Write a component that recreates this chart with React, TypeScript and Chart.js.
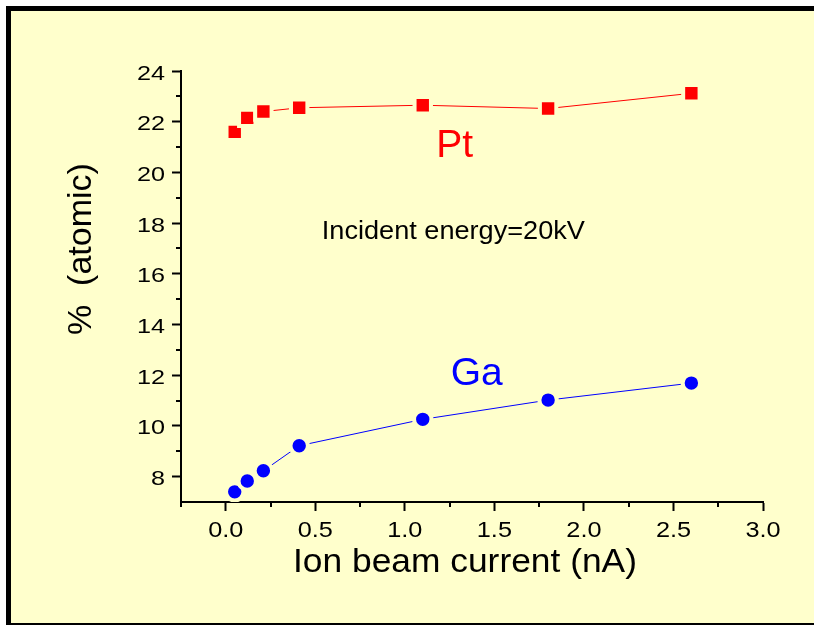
import React, { useEffect, useRef } from "react";
import { Chart, registerables } from "chart.js";

Chart.register(...registerables);

// ---- data ----
const currentNA = [0.05, 0.12, 0.21, 0.41, 1.1, 1.8, 2.6];
const ptPercent = [21.6, 22.15, 22.4, 22.55, 22.65, 22.52, 23.12];
const gaPercent = [7.4, 7.83, 8.23, 9.22, 10.26, 11.02, 11.69];

const xMajorTicks = [0, 0.5, 1, 1.5, 2, 2.5, 3];
const xMinorTicks = [-0.25, 0.25, 0.75, 1.25, 1.75, 2.25, 2.75];
const yMajorTicks = [8, 10, 12, 14, 16, 18, 20, 22, 24];
const yMinorTicks = [9, 11, 13, 15, 17, 19, 21, 23];

const xTitle = "Ion beam current (nA)";
const yTitle = "%  (atomic)";
const noteText = "Incident energy=20kV";
const ptLabel = "Pt";
const gaLabel = "Ga";

const BG = "#FFFFCC";
const FONT = '"Liberation Sans", Arial, Helvetica, sans-serif';

const fmtX = (v: number) => v.toFixed(1);
const fmtY = (v: number) => String(v);

function drawText(
  ctx: CanvasRenderingContext2D,
  text: string,
  x: number,
  y: number,
  size: number,
  color: string,
  sx = 1,
  rot = 0,
  align: CanvasTextAlign = "left"
) {
  ctx.save();
  ctx.translate(x, y);
  ctx.rotate(rot);
  ctx.scale(sx, 1);
  ctx.font = `${size}px ${FONT}`;
  ctx.fillStyle = color;
  ctx.textAlign = align;
  ctx.textBaseline = "alphabetic";
  ctx.fillText(text, 0, 0);
  ctx.restore();
}

const extrasPlugin = {
  id: "extras",
  afterDraw(chart: any) {
    const ctx: CanvasRenderingContext2D = chart.ctx;
    const xs = chart.scales.x;
    const ys = chart.scales.y;
    const area = chart.chartArea;
    ctx.save();
    ctx.strokeStyle = "#000";
    ctx.lineWidth = 2;
    // minor ticks
    for (const v of xMinorTicks) {
      const px = Math.round(xs.getPixelForValue(v));
      ctx.beginPath();
      ctx.moveTo(px, area.bottom);
      ctx.lineTo(px, area.bottom + 5);
      ctx.stroke();
    }
    for (const v of yMinorTicks) {
      const py = Math.round(ys.getPixelForValue(v));
      ctx.beginPath();
      ctx.moveTo(area.left, py);
      ctx.lineTo(area.left - 5, py);
      ctx.stroke();
    }
    ctx.restore();

    // tick labels (wide Helvetica-like style of the original), placed by the scales
    for (const t of xs.ticks) {
      drawText(ctx, fmtX(t.value), xs.getPixelForValue(t.value), area.bottom + 34.5, 22, "#000", 1.15, 0, "center");
    }
    for (const t of ys.ticks) {
      drawText(ctx, fmtY(t.value), area.left - 16, ys.getPixelForValue(t.value) + 8.5, 21, "#000", 1.2, 0, "right");
    }

    // annotations anchored in data coordinates
    drawText(ctx, ptLabel, xs.getPixelForValue(1.175), ys.getPixelForValue(20.6), 39, "#FF0000");
    drawText(ctx, gaLabel, xs.getPixelForValue(1.256), ys.getPixelForValue(11.6), 39, "#0000FF");
    drawText(ctx, noteText, xs.getPixelForValue(0.536), ys.getPixelForValue(17.36), 25, "#000", 1.085);

    // axis titles
    drawText(ctx, xTitle, 293, 571.5, 34, "#000", 1.04);
    drawText(ctx, yTitle, 91, 335, 33, "#000", 1.03, -Math.PI / 2);
  },
};

export default function App() {
  const ref = useRef<HTMLCanvasElement>(null);

  useEffect(() => {
    const canvas = ref.current!;
    const chart = new Chart(canvas, {
      type: "scatter",
      data: {
        datasets: [
          {
            label: ptLabel,
            data: currentNA.map((x, i) => ({ x, y: ptPercent[i] })),
            showLine: true,
            borderColor: "#FF0000",
            borderWidth: 1,
            backgroundColor: "#FF0000",
            pointStyle: "rect",
            pointRadius: 11.6,
            pointBorderWidth: 4,
            pointBorderColor: BG,
            pointBackgroundColor: "#FF0000",
            tension: 0,
          },
          {
            label: gaLabel,
            data: currentNA.map((x, i) => ({ x, y: gaPercent[i] })),
            showLine: true,
            borderColor: "#0000FF",
            borderWidth: 1,
            backgroundColor: "#0000FF",
            pointStyle: "circle",
            pointRadius: 8.7,
            pointBorderWidth: 4,
            pointBorderColor: BG,
            pointBackgroundColor: "#0000FF",
            tension: 0,
          },
        ],
      },
      options: {
        responsive: false,
        animation: false,
        events: [],
        layout: { padding: { top: 71, right: 51, bottom: 0, left: 0 } },
        plugins: {
          legend: { display: false },
          tooltip: { enabled: false },
        },
        scales: {
          x: {
            type: "linear",
            min: -0.25,
            max: 3,
            afterBuildTicks: (s: any) => {
              s.ticks = xMajorTicks.map((v) => ({ value: v }));
            },
            afterFit: (s: any) => {
              s.height = 124;
            },
            grid: {
              drawOnChartArea: false,
              drawTicks: true,
              tickLength: 9,
              tickColor: "#000",
              tickWidth: 2,
            },
            border: { display: true, color: "#000", width: 2 },
            ticks: { display: false, autoSkip: false },
          },
          y: {
            type: "linear",
            min: 7,
            max: 24,
            afterBuildTicks: (s: any) => {
              s.ticks = yMajorTicks.map((v) => ({ value: v }));
            },
            afterFit: (s: any) => {
              s.width = 181;
            },
            grid: {
              drawOnChartArea: false,
              drawTicks: true,
              tickLength: 9,
              tickColor: "#000",
              tickWidth: 2,
            },
            border: { display: true, color: "#000", width: 2 },
            ticks: { display: false, autoSkip: false },
          },
        },
      },
      plugins: [extrasPlugin],
    } as any);
    return () => chart.destroy();
  }, []);

  return (
    <div
      style={{
        position: "fixed",
        left: 0,
        top: 0,
        width: 814,
        height: 626,
        background: "#fff",
        overflow: "hidden",
      }}
    >
      <div
        style={{
          position: "absolute",
          left: 6,
          top: 6,
          width: 900,
          height: 612,
          background: BG,
          borderTop: "5px solid #000",
          borderLeft: "5px solid #000",
          borderBottom: "2px solid #000",
        }}
      />
      <canvas
        ref={ref}
        width={814}
        height={626}
        style={{ position: "absolute", left: 0, top: 0, width: 814, height: 626 }}
      />
    </div>
  );
}
